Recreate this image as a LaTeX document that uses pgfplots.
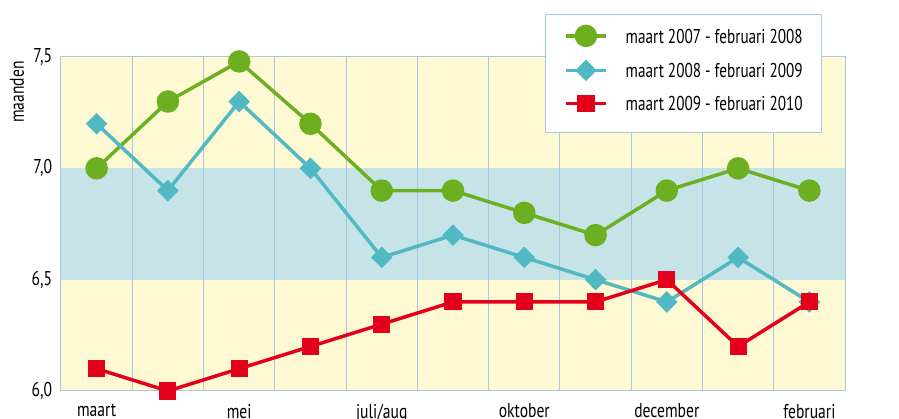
\documentclass[border=0pt]{standalone}
\usepackage{pgfplots}
\pgfplotsset{compat=1.18}
\usetikzlibrary{calc}
\usepackage{fontspec}
\setmainfont[FakeStretch=0.78]{PT Sans}
\newfontfamily\legfont[FakeStretch=0.76]{PT Sans}
\definecolor{cgreen}{RGB}{108,176,34}
\definecolor{ccyan}{RGB}{80,185,195}
\definecolor{cred}{RGB}{226,0,26}
\definecolor{byellow}{RGB}{254,249,210}
\definecolor{bblue}{RGB}{198,228,231}
\definecolor{gridblue}{RGB}{168,199,227}
\begin{document}
\fontsize{20}{24}\selectfont
\begin{tikzpicture}
\begin{axis}[
  set layers,
  scale only axis,
  width=784pt, height=334pt,
  xmin=-0.5, xmax=10.5,
  ymin=6, ymax=7.5,
  clip=false,
  xtick={0,2,4,6,8,10},
  xticklabels={maart,mei,juli/aug,oktober,december,februari},
  minor xtick={0.5,1.5,...,9.5},
  xminorgrids=true,
  minor grid style={gridblue, line width=1pt},
  ytick={6,6.5,7,7.5},
  major tick length=0pt,
  minor tick length=0pt,
  axis line style={gridblue, line width=1pt},
  /pgf/number format/.cd, use comma, fixed, fixed zerofill, precision=1, assume math mode=true,
  /pgfplots/.cd,
  tick label style={font=\fontsize{20}{24}\selectfont},
  yticklabel style={xshift=-2pt},
  xticklabel style={yshift=-6pt},
  legend style={at={(rel axis cs:0.617,1.129)}, anchor=north west,
    draw=gridblue, line width=1pt, fill=white,
    inner xsep=19pt, inner ysep=12pt, row sep=9pt, column sep=18pt,
    nodes={inner sep=0pt, anchor=west, text depth=10pt, yshift=-5pt},
    font=\legfont\fontsize{20}{24}\selectfont},
  legend cell align=left,
  legend image code/.code={\draw[mark repeat=2,mark phase=2,#1] plot coordinates {(0pt,0pt) (20pt,0pt) (40pt,0pt)};},
]
\begin{pgfonlayer}{axis background}
\fill[byellow] (axis cs:-0.5,6) rectangle (axis cs:10.5,6.5);
\fill[bblue] (axis cs:-0.5,6.5) rectangle (axis cs:10.5,7);
\fill[byellow] (axis cs:-0.5,7) rectangle (axis cs:10.5,7.5);
\end{pgfonlayer}
\coordinate (sw) at (rel axis cs:0,0);
\node[rotate=90] at ($(rel axis cs:0,1)+(-44pt,-35pt)$) {maanden};

\addplot[cgreen, line width=3.5pt, mark=*, mark size=9.5pt] coordinates {
(0,7.0) (1,7.3) (2,7.48) (3,7.2) (4,6.9) (5,6.9) (6,6.8) (7,6.7) (8,6.9) (9,7.0) (10,6.9)};
\addlegendentry{maart 2007 - februari 2008}
\addplot[ccyan, line width=3.5pt, mark=square*, mark size=5.9pt, mark options={rotate=45}] coordinates {
(0,7.2) (1,6.9) (2,7.3) (3,7.0) (4,6.6) (5,6.7) (6,6.6) (7,6.5) (8,6.4) (9,6.6) (10,6.4)};
\addlegendentry{maart 2008 - februari 2009}
\addplot[cred, line width=3.5pt, mark=square*, mark size=6.8pt] coordinates {
(0,6.1) (1,6.0) (2,6.1) (3,6.2) (4,6.3) (5,6.4) (6,6.4) (7,6.4) (8,6.5) (9,6.2) (10,6.4)};
\addlegendentry{maart 2009 - februari 2010}
\end{axis}
\pgfresetboundingbox
\path[use as bounding box] ($(sw)+(-61pt,-28pt)$) rectangle ++(899pt,419pt);
\end{tikzpicture}
\end{document}
